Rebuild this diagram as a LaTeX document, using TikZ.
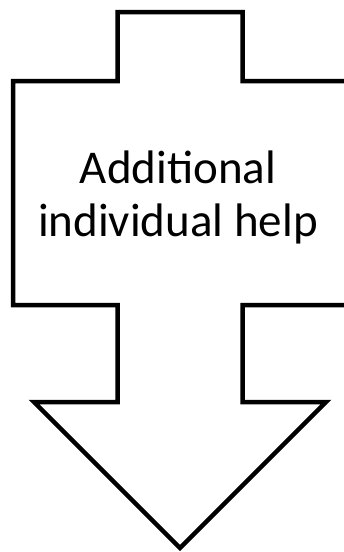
\documentclass[tikz,border=0pt]{standalone}
\usepackage{fontspec}
\setmainfont{Carlito}
\begin{document}
\begin{tikzpicture}[x=1pt,y=-1pt,
  outline/.style={draw=black,line width=4.5pt,line join=miter,fill=white},
  label/.style={font=\fontsize{47}{54}\selectfont,align=center,inner sep=0pt}]
  \useasboundingbox (0,0) rectangle (344,552);
  \clip (0,0) rectangle (344,552);
  % cross-shaped block with a downward arrowhead
  \draw[outline] (117.5,12) -- (242.5,12) -- (242.5,81) -- (347,81)
    -- (347,305) -- (242.5,305) -- (242.5,402) -- (326,402)
    -- (180,548) -- (34,402) -- (117.5,402) -- (117.5,305)
    -- (13,305) -- (13,81) -- (117.5,81) -- cycle;
  \node[label,anchor=base] (l1) at (178,183) {Additional};
  \node[label,anchor=base] (l2) at (178,236) {individual help};
\end{tikzpicture}
\end{document}
